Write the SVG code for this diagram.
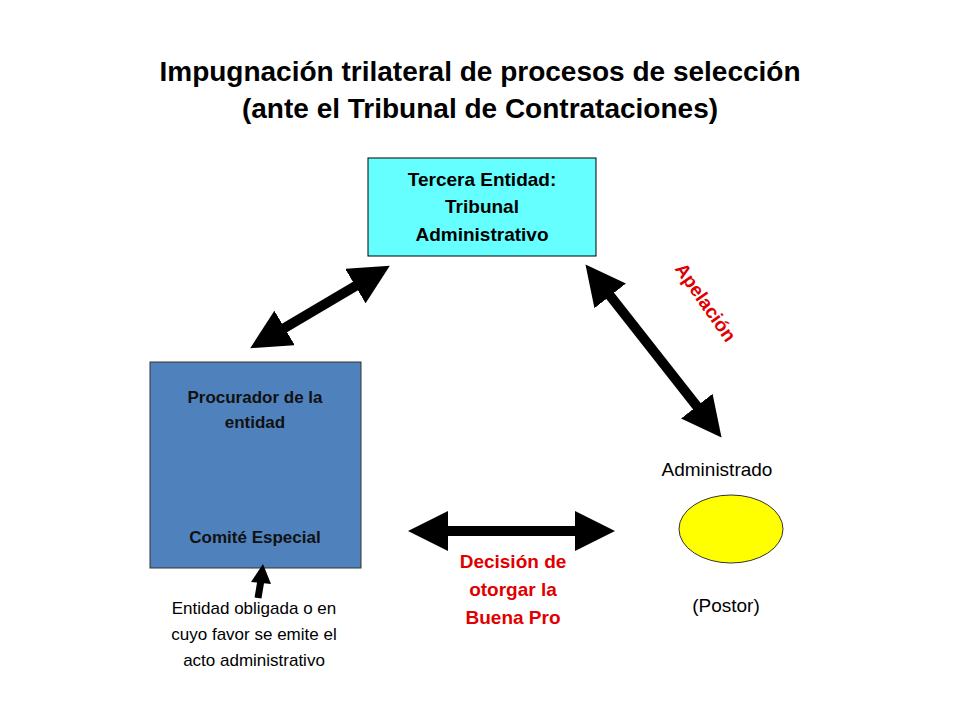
<svg xmlns="http://www.w3.org/2000/svg" width="960" height="720" viewBox="0 0 960 720">
<style>
text{font-family:"Liberation Sans",Arial,sans-serif;text-anchor:middle}
.t{font-size:28px;font-weight:bold;fill:#000}
.b{font-size:19px;font-weight:bold;fill:#000}
.bl{font-size:17px;font-weight:bold;fill:#111}
.r{font-size:19px;font-weight:bold;fill:#E00000}
.n{font-size:19px;fill:#000}
.s{font-size:17px;fill:#000}
.a{stroke:#000;stroke-width:10;fill:none;marker-start:url(#h);marker-end:url(#h)}
</style>
<defs><marker id="h" markerUnits="strokeWidth" markerWidth="4" markerHeight="4" refX="1" refY="2" orient="auto-start-reverse"><path d="M0,0 L4,2 L0,4 z" fill="#000"/></marker></defs>
<rect width="960" height="720" fill="#fff"/>
<text class="t" x="480" y="81">Impugnación trilateral de procesos de selección</text>
<text class="t" x="480" y="118">(ante el Tribunal de Contrataciones)</text>
<g id="tribunal"><rect x="368" y="158" width="228" height="98" fill="#66FFFF" stroke="#000"/>
<text class="b" x="482" y="186">Tercera Entidad:</text><text class="b" x="482" y="213">Tribunal</text><text class="b" x="482" y="241">Administrativo</text></g>
<g id="procurador"><rect x="150" y="362" width="211" height="206" fill="#4F81BD" stroke="#333"/>
<text class="bl" x="255" y="403">Procurador de la</text><text class="bl" x="255" y="428">entidad</text><text class="bl" x="255" y="543">Comité Especial</text></g>
<g id="administrado"><text class="n" x="717" y="476">Administrado</text>
<ellipse cx="731" cy="529" rx="52" ry="34" fill="#FFFF00" stroke="#333"/>
<text class="n" x="726" y="612">(Postor)</text></g>
<g id="entidad"><text class="s" x="254" y="614">Entidad obligada o en</text><text class="s" x="254" y="640">cuyo favor se emite el</text><text class="s" x="254" y="666">acto administrativo</text></g>
<g id="connectors">
<line class="a" x1="276" y1="333" x2="364" y2="281"/>
<line class="a" x1="604" y1="288" x2="703" y2="414"/>
<line class="a" x1="438" y1="531" x2="585" y2="531"/>
<line x1="258" y1="598" x2="261" y2="580" stroke="#000" stroke-width="7"/>
<polygon points="263,564 271,584 251,582" fill="#000"/>
<text class="r" transform="translate(706,302) rotate(55)" x="0" y="7">Apelación</text>
<text class="r" x="513" y="568">Decisión de</text><text class="r" x="513" y="596">otorgar la</text><text class="r" x="513" y="624">Buena Pro</text>
</g>
</svg>
